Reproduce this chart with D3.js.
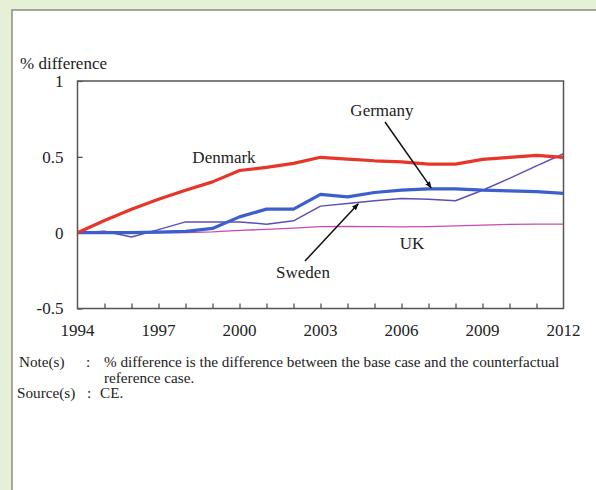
<!DOCTYPE html>
<html>
<head>
<meta charset="utf-8">
<script src="https://cdn.jsdelivr.net/npm/d3@7"></script>
<style>
  body { margin: 0; background: #e6f0d6; }
  svg { display: block; }
  text { font-family: "Liberation Serif", "Times New Roman", serif; fill: #222; }
</style>
</head>
<body>
<svg id="chart" width="596" height="490"></svg>
<script>
// data
var years = d3.range(1994, 2013);
var denmark = [0, 0.08, 0.155, 0.22, 0.28, 0.335, 0.41, 0.43, 0.457, 0.497, 0.485, 0.474, 0.467, 0.452, 0.452, 0.483, 0.497, 0.51, 0.497];
var germany = [0, 0, 0, 0.003, 0.008, 0.028, 0.104, 0.155, 0.155, 0.252, 0.236, 0.265, 0.28, 0.289, 0.289, 0.28, 0.276, 0.27, 0.259];
var sweden  = [0, 0.01, -0.028, 0.02, 0.071, 0.071, 0.071, 0.056, 0.078, 0.175, 0.193, 0.21, 0.226, 0.22, 0.21, 0.28, 0.358, 0.44, 0.52];
var uk      = [0, 0, 0, 0, 0, 0.005, 0.015, 0.022, 0.03, 0.04, 0.042, 0.04, 0.038, 0.04, 0.045, 0.05, 0.055, 0.056, 0.056];
var yTicks = [1, 0.5, 0, -0.5];
var xLabelYears = [1994, 1997, 2000, 2003, 2006, 2009, 2012];

function draw_chart() {

    var svg = d3.select("#chart");

    // white panel
    svg.append("rect")
        .attr("x", 12).attr("y", 10)
        .attr("width", 700).attr("height", 600)
        .attr("fill", "#fff")
        .attr("stroke", "#8a8a8a")
        .attr("stroke-width", 1.5);

    var pLeft = 77.5, pRight = 563.5, pTop = 81, pBottom = 308.5;

    var x = d3.scaleLinear().domain([1994, 2012]).range([pLeft, pRight]);
    var y = d3.scaleLinear().domain([-0.5, 1]).range([pBottom, pTop]);

    svg.append("text")
        .attr("x", 20).attr("y", 69)
        .style("font-size", "17px")
        .text("% difference");

    // axes
    var g = svg.append("g");

    g.append("g")
        .attr("transform", "translate(" + pLeft + ",0)")
        .call(d3.axisRight(y).tickValues(yTicks).tickSize(5).tickFormat(""))
        .call(s => s.select(".domain").remove())
        .selectAll("line").attr("stroke", "#444").attr("stroke-width", 1.2);

    g.append("g")
        .attr("transform", "translate(0," + pBottom + ")")
        .call(d3.axisTop(x).tickValues(years.slice(1, -1)).tickSize(5).tickFormat(""))
        .call(s => s.select(".domain").remove())
        .selectAll("line").attr("stroke", "#444").attr("stroke-width", 1.2);

    g.selectAll(".ylab")
        .data(yTicks)
        .enter().append("text")
        .attr("class", "ylab")
        .attr("x", pLeft - 14)
        .attr("y", d => y(d))
        .attr("dy", "0.35em")
        .attr("text-anchor", "end")
        .style("font-size", "17px")
        .text(d => d);

    g.selectAll(".xlab")
        .data(xLabelYears)
        .enter().append("text")
        .attr("class", "xlab")
        .attr("x", d => x(d))
        .attr("y", pBottom + 22)
        .attr("dy", "0.35em")
        .attr("text-anchor", "middle")
        .style("font-size", "17px")
        .text(d => d);

    // series
    var line = d3.line()
        .x((d, i) => x(years[i]))
        .y(d => y(d));

    var series = [
        { name: "UK", values: uk, color: "#c64bb5", width: 1.3 },
        { name: "Sweden", values: sweden, color: "#5a4fb9", width: 1.5 },
        { name: "Germany", values: germany, color: "#3d5fcc", width: 3.2 },
        { name: "Denmark", values: denmark, color: "#e8352a", width: 3.2 }
    ];

    svg.selectAll(".series")
        .data(series)
        .enter().append("path")
        .attr("class", "series")
        .attr("d", d => line(d.values))
        .attr("fill", "none")
        .attr("stroke", d => d.color)
        .attr("stroke-width", d => d.width)
        .attr("stroke-linejoin", "round");

    // plot frame
    svg.append("rect")
        .attr("x", pLeft).attr("y", pTop)
        .attr("width", pRight - pLeft).attr("height", pBottom - pTop)
        .attr("fill", "none")
        .attr("stroke", "#555")
        .attr("stroke-width", 1.5);

    // labels and arrows
    svg.append("defs").append("marker")
        .attr("id", "arr")
        .attr("viewBox", "0 0 10 10")
        .attr("refX", 9).attr("refY", 5)
        .attr("markerWidth", 7).attr("markerHeight", 7)
        .attr("markerUnits", "userSpaceOnUse")
        .attr("orient", "auto")
        .append("path")
        .attr("d", "M0,1 L10,5 L0,9 z")
        .attr("fill", "#111");

    svg.append("line")
        .attr("x1", 385).attr("y1", 122)
        .attr("x2", x(2007.1)).attr("y2", y(0.295))
        .attr("stroke", "#111").attr("stroke-width", 1.5)
        .attr("marker-end", "url(#arr)");

    svg.append("line")
        .attr("x1", 305).attr("y1", 261)
        .attr("x2", x(2004.4)).attr("y2", y(0.19))
        .attr("stroke", "#111").attr("stroke-width", 1.5)
        .attr("marker-end", "url(#arr)");

    var labels = [
        { text: "Germany", x: 382, y: 110 },
        { text: "Denmark", x: 224, y: 157 },
        { text: "UK", x: 412, y: 243 },
        { text: "Sweden", x: 303, y: 272 }
    ];
    svg.selectAll(".lab")
        .data(labels)
        .enter().append("text")
        .attr("class", "lab")
        .attr("x", d => d.x).attr("y", d => d.y)
        .attr("dy", "0.35em")
        .attr("text-anchor", "middle")
        .style("font-size", "17px")
        .text(d => d.text);

    // notes
    var notes = svg.append("g").style("font-size", "15.2px");
    notes.append("text").attr("x", 19).attr("y", 367).text("Note(s)");
    notes.append("text").attr("x", 86).attr("y", 367).text(":");
    notes.append("text").attr("x", 104).attr("y", 367)
        .text("% difference is the difference between the base case and the counterfactual");
    notes.append("text").attr("x", 104).attr("y", 383).text("reference case.");
    notes.append("text").attr("x", 17).attr("y", 398).text("Source(s)");
    notes.append("text").attr("x", 87).attr("y", 398).text(":");
    notes.append("text").attr("x", 100).attr("y", 398).text("CE.");
}

draw_chart();
</script>
</body>
</html>
